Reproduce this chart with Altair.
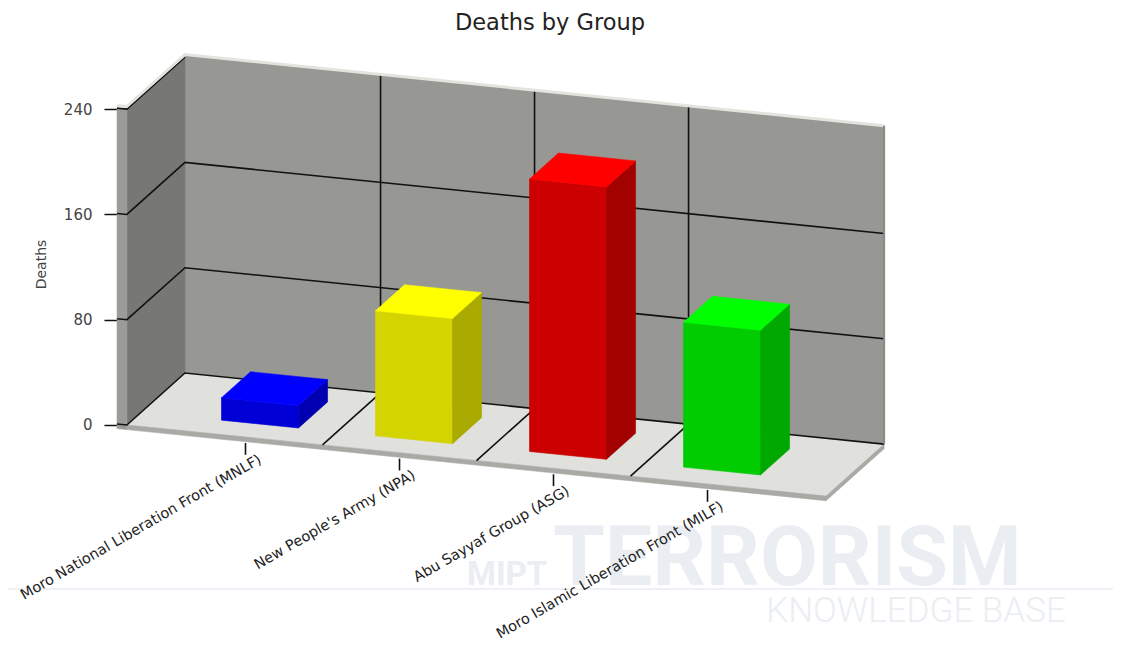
import altair as alt
import pandas as pd

# ---------------- data ----------------
groups = [
    "Moro National Liberation Front (MNLF)",
    "New People's Army (NPA)",
    "Abu Sayyaf Group (ASG)",
    "Moro Islamic Liberation Front (MILF)",
]
deaths = [17, 95, 207, 110]
front_colors = ["#0000d6", "#d4d400", "#cc0000", "#00cc00"]
top_colors = ["#0000ff", "#ffff00", "#ff0000", "#00ff00"]
side_colors = ["#0000b0", "#aaaa00", "#a30000", "#00a800"]
y_ticks = [0, 80, 160, 240]

# ---------------- pseudo-3D geometry (style constants) ----------------
U_LEFT, U_RIGHT = -0.27, 4.27       # front plane extent in category units
STRIP = 0.064                        # wall edge thickness
V_TOP = 242                          # top of the walls (value units)
DEPTH_U, DEPTH_V = 0.377, 39.5       # offset of the back plane
SHEAR = 11.9                         # downward slope (value units per category)
BAR_U0, BAR_U1 = 0.25, 0.75          # bar extent inside its category
BAR_D0, BAR_D1 = 0.25, 0.75          # bar extent in depth
X_DOMAIN = [-0.3344, 4.6526]
Y_DOMAIN = [-60.8, 284.95]
W, H = 768, 455


def P(u, v, d):
    return (u + DEPTH_U * d, v - SHEAR * (u - U_LEFT) + DEPTH_V * d)


def envelope(pid, verts, fill):
    xs = sorted(set(round(x, 9) for x, _ in verts))
    rows = []
    n = len(verts)
    for x in xs:
        ys = []
        for i in range(n):
            x1, y1 = verts[i]
            x2, y2 = verts[(i + 1) % n]
            if abs(x1 - x) < 1e-7:
                ys.append(y1)
            elif (x1 - x) * (x2 - x) < 0:
                t = (x - x1) / (x2 - x1)
                ys.append(y1 + t * (y2 - y1))
        rows.append({"pid": pid, "x": x, "y": min(ys), "y2": max(ys), "fill": fill})
    return rows


# walls / floor
poly_rows = []
poly_rows += envelope("a01", [P(U_LEFT, 0, 1), P(U_RIGHT, 0, 1), P(U_RIGHT, V_TOP, 1), P(U_LEFT, V_TOP, 1)], "#979793")
poly_rows += envelope("a02", [P(U_LEFT, 0, 0), P(U_LEFT, 0, 1), P(U_LEFT, V_TOP, 1), P(U_LEFT, V_TOP, 0)], "#777773")
poly_rows += envelope("a03", [P(U_LEFT, 0, 0), P(U_RIGHT, 0, 0), P(U_RIGHT, 0, 1), P(U_LEFT, 0, 1)], "#e0e0dc")
poly_rows += envelope("a04", [P(U_LEFT - STRIP, -3.5, 0), P(U_LEFT, -3.5, 0), P(U_LEFT, V_TOP - 2, 0), P(U_LEFT - STRIP, V_TOP - 2, 0)], "#9b9b97")
poly_rows += envelope("a05", [P(U_LEFT, -3.5, 0), P(U_RIGHT, -3.5, 0), P(U_RIGHT, 0, 0), P(U_LEFT, 0, 0)], "#a9a9a5")
poly_rows += envelope("a06", [P(U_RIGHT, -3.5, 0), P(U_RIGHT, -3.5, 1), P(U_RIGHT, 0, 1), P(U_RIGHT, 0, 0)], "#a9a9a5")
walls = pd.DataFrame(poly_rows)

# bars
bar_rows = []
for i, v in enumerate(deaths):
    u0, u1 = i + BAR_U0, i + BAR_U1
    bar_rows += envelope(f"b{i}1", [P(u0, 0, BAR_D0), P(u1, 0, BAR_D0), P(u1, v, BAR_D0), P(u0, v, BAR_D0)], front_colors[i])
    bar_rows += envelope(f"b{i}2", [P(u1, 0, BAR_D0), P(u1, 0, BAR_D1), P(u1, v, BAR_D1), P(u1, v, BAR_D0)], side_colors[i])
    bar_rows += envelope(f"b{i}3", [P(u0, v, BAR_D0), P(u1, v, BAR_D0), P(u1, v, BAR_D1), P(u0, v, BAR_D1)], top_colors[i])
bars = pd.DataFrame(bar_rows)

# grid lines
line_rows = []


def add_line(lid, pts, rows):
    for k, (x, y) in enumerate(pts):
        rows.append({"lid": lid, "seq": k, "x": x, "y": y})


for t in y_ticks:
    pts = [P(U_LEFT - STRIP, t, 0), P(U_LEFT, t, 0), P(U_LEFT, t, 1)]
    if t < y_ticks[-1]:
        pts.append(P(U_RIGHT, t, 1))
    add_line(f"g{t:03d}", pts, line_rows)
for k in range(1, len(groups)):
    add_line(f"v{k}", [P(k, 0, 1), P(k, V_TOP, 1)], line_rows)
    add_line(f"f{k}", [P(k, 0, 0), P(k, 0, 1)], line_rows)
grid = pd.DataFrame(line_rows)

hl_rows = []
add_line("h1", [P(U_LEFT - STRIP, V_TOP, 0), P(U_LEFT, V_TOP, 0), P(U_LEFT, V_TOP, 1), P(U_RIGHT, V_TOP, 1)], hl_rows)
highlight = pd.DataFrame(hl_rows)

edge_rows = []
add_line("e1", [P(U_RIGHT, 0, 1), P(U_RIGHT, V_TOP, 1)], edge_rows)
edge = pd.DataFrame(edge_rows)

# category ticks & labels
tick_rows = []
for i, g in enumerate(groups):
    uc = i + 0.5
    tick_rows.append({"x": uc, "y": P(uc, -4.5, 0)[1], "y2": P(uc, -13.5, 0)[1], "label": g})
ticks = pd.DataFrame(tick_rows)

# ---------------- chart ----------------
xs = alt.Scale(domain=X_DOMAIN, nice=False, zero=False)
ys = alt.Scale(domain=Y_DOMAIN, nice=False, zero=False)
yaxis = alt.Axis(
    values=y_ticks, domain=False, grid=False, tickSize=13, tickWidth=1.5,
    tickColor="#111111", labelFontSize=15, labelFont="DejaVu Sans",
    labelColor="#444444", labelPadding=12, title="Deaths", titleFontSize=14,
    titleFont="DejaVu Sans", titleFontWeight="normal", titleColor="#444444",
    titleX=-69, titleY=214, format="d",
)
X = alt.X("x:Q", scale=xs, axis=None)
Y = alt.Y("y:Q", scale=ys, axis=yaxis, stack=False)

wall_layer = alt.Chart(walls).mark_area(interpolate="linear", orient="vertical", strokeWidth=0.6).encode(
    x=X, y=Y, y2="y2:Q", detail="pid:N",
    color=alt.Color("fill:N", scale=None), stroke=alt.Stroke("fill:N", scale=None),
)
grid_layer = alt.Chart(grid).mark_line(color="#111111", strokeWidth=1.6).encode(
    x=X, y=Y, detail="lid:N", order="seq:Q"
)
hl_layer = alt.Chart(highlight).mark_line(color="#e4e4de", strokeWidth=3).encode(
    x=X, y=Y, detail="lid:N", order="seq:Q"
)
edge_layer = alt.Chart(edge).mark_line(color="#8a8a86", strokeWidth=2).encode(
    x=X, y=Y, detail="lid:N", order="seq:Q"
)
bar_layer = alt.Chart(bars).mark_area(interpolate="linear", orient="vertical", strokeWidth=0.6).encode(
    x=X, y=Y, y2="y2:Q", detail="pid:N",
    color=alt.Color("fill:N", scale=None), stroke=alt.Stroke("fill:N", scale=None),
)
tick_layer = alt.Chart(ticks).mark_rule(color="#111111", strokeWidth=1.6).encode(
    x=X, y=Y, y2="y2:Q"
)
label_layer = alt.Chart(ticks).mark_text(
    angle=330, align="right", baseline="middle", dx=11, dy=11,
    fontSize=14.5, font="DejaVu Sans", color="#222222",
).encode(x=X, y=alt.Y("y2:Q", scale=ys, axis=yaxis), text="label:N")

wm_color = "#eaeef3"
wm_base = alt.Chart(pd.DataFrame({"k": [0]}))
wm_mipt = wm_base.mark_text(align="left", baseline="alphabetic", fontSize=33, fontWeight="bold",
                            font="Roboto", color=wm_color).encode(
    x=alt.value(350), y=alt.value(535), text=alt.value("MIPT"))
wm_terror = wm_base.mark_text(align="left", baseline="alphabetic", fontSize=84, fontWeight="bold",
                              font="Roboto", color=wm_color).encode(
    x=alt.value(436), y=alt.value(535), text=alt.value("TERRORISM"))
wm_rule = wm_base.mark_rule(color="#eef1f5", strokeWidth=2).encode(
    x=alt.value(-117), x2=alt.value(1000), y=alt.value(539))
wm_kb = wm_base.mark_text(align="center", baseline="alphabetic", fontSize=35, fontWeight=300,
                          font="Roboto", color=wm_color).encode(
    x=alt.value(799), y=alt.value(572), text=alt.value("KNOWLEDGE BASE"))

chart = alt.layer(
    wm_rule, wm_mipt, wm_terror, wm_kb,
    wall_layer, grid_layer, hl_layer, edge_layer, bar_layer, tick_layer, label_layer,
).properties(
    width=W, height=H,
    autosize=alt.AutoSizeParams(type="none"),
    padding={"left": 109, "top": 42, "right": 228, "bottom": 135},
    title=alt.TitleParams(text="Deaths by Group", fontSize=22.5, font="DejaVu Sans",
                          fontWeight="normal", color="#222222", anchor="middle",
                          frame="group", dx=49, offset=14),
).configure_view(stroke=None)

chart.save("out.html", embed_options={"renderer": "svg", "actions": False})
